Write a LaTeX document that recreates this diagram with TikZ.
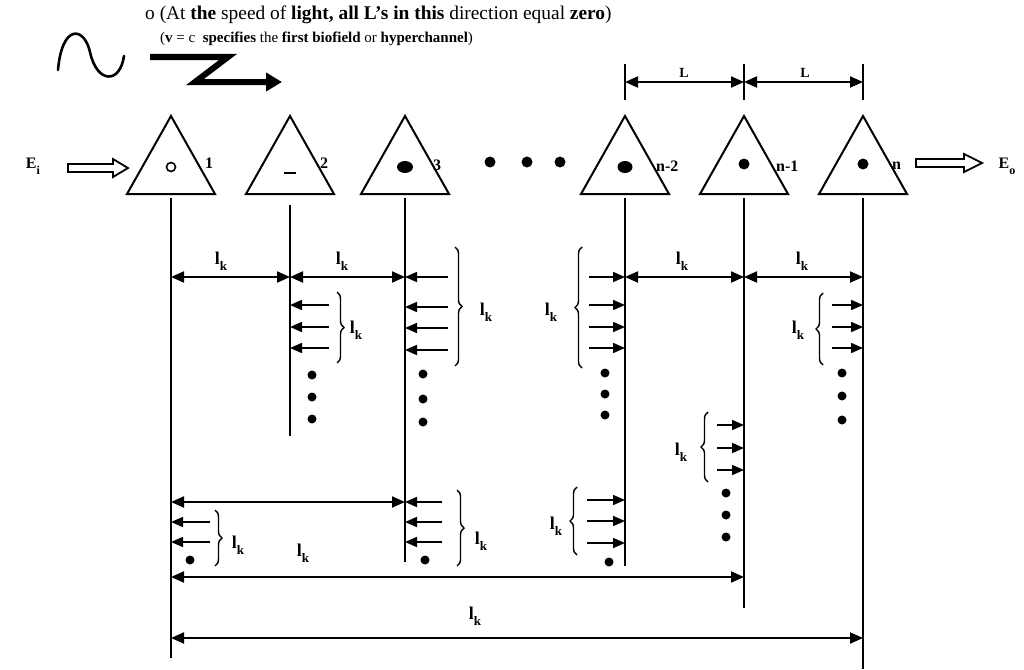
\documentclass[tikz,border=0pt]{standalone}
\usepackage{fontspec}
\setmainfont{Liberation Serif}
\usetikzlibrary{arrows.meta,decorations.pathreplacing,calc}
\tikzset{
  tri/.style={line width=2pt,line join=miter},
  vline/.style={line width=1.7pt},
  dim/.style={line width=2pt,{Triangle[length=13pt,width=11pt]}-{Triangle[length=13pt,width=11pt]}},
  la/.style={line width=1.7pt,-{Triangle[length=12pt,width=10pt]}},
  lab/.style={font=\fontsize{18}{18}\selectfont\bfseries,inner sep=0pt},
  num/.style={font=\fontsize{16}{16}\selectfont\bfseries,inner sep=0pt},
  brc/.style={decorate,decoration={brace,amplitude=7pt},line width=1.4pt},
  bdot/.style={circle,fill,inner sep=0pt,minimum size=9pt},
  hollow/.style={line width=1.8pt,line join=miter},
  toptext/.style={inner sep=0pt,anchor=base west}
}
\newcommand{\lk}{l\raisebox{-6pt}{\fontsize{13}{13}\selectfont k}}
\begin{document}
\begin{tikzpicture}[x=1pt,y=-1pt]
\useasboundingbox (0,0) rectangle (1024,669);
% top texts
\node[toptext,font=\fontsize{19.4}{19.4}\selectfont] (t1) at (145,20) {o (At \textbf{the} speed of \textbf{light,} \textbf{all L's in this} direction equal \textbf{zero})};
\node[toptext,font=\fontsize{15}{15}\selectfont] (t2) at (160,42) {(\textbf{v} = c \ \textbf{specifies} the \textbf{first biofield} or \textbf{hyperchannel})};
% sine and Z arrow
\draw[line width=2.6pt,line cap=round] (58,70) .. controls (62,24) and (84,26) .. (90,52) .. controls (97,84) and (120,84) .. (124,56);
\draw[line width=6pt,line join=miter,-{Triangle[length=16pt,width=18pt]}] (150,57) -- (228,57) -- (195,82) -- (282,82);
% column coordinates
\foreach \n/\x in {c1/171,c2/290,c3/405,c4/625,c5/744,c6/863}{
  \coordinate (\n) at (\x,0);
  \draw[tri] (\x,116) -- (\x-44,194) -- (\x+44,194) -- cycle;
}
% inner marks
\draw[line width=1.6pt] (171,167) circle (4.5);
\draw[line width=2.5pt] (284,173) -- (296,173);
\fill (405,167) ellipse (8 and 6);
\fill (625,167) ellipse (7.5 and 6);
\fill (744,164) circle (5.5);
\fill (863,164) circle (5.5);
% numbers
\node[num,anchor=west] (n1) at (205,163) {1};
\node[num,anchor=west] (n2) at (320,163) {2};
\node[num,anchor=west] (n3) at (433,165) {3};
\node[num,anchor=west] (n4) at (656,166) {n-2};
\node[num,anchor=west] (n5) at (776,166) {n-1};
\node[num,anchor=west] (n6) at (892,166) {n};
% middle dots
\node[bdot,minimum size=11pt] (d1) at (490,162) {};
\node[bdot,minimum size=11pt] (d2) at (527,162) {};
\node[bdot,minimum size=11pt] (d3) at (560,162) {};
% E in / out
\node[font=\fontsize{16}{16}\selectfont\bfseries,inner sep=0pt] (ei) at (33,166) {E\raisebox{-6pt}{\fontsize{12}{12}\selectfont i}};
\node[font=\fontsize{16}{16}\selectfont\bfseries,inner sep=0pt] (eo) at (1007,166) {E\raisebox{-6pt}{\fontsize{12}{12}\selectfont o}};
\draw[hollow] (68,164) -- (113,164) -- (113,159) -- (128,168) -- (113,177) -- (113,172) -- (68,172) -- cycle;
\draw[hollow] (916,159) -- (964,159) -- (964,154) -- (982,163) -- (964,172) -- (964,167) -- (916,167) -- cycle;
% L dimension
\draw[vline] (c4 |- 0,64) -- (c4 |- 0,100);
\draw[vline] (c5 |- 0,64) -- (c5 |- 0,100);
\draw[vline] (c6 |- 0,64) -- (c6 |- 0,100);
\draw[dim] (c4 |- 0,82) -- (c5 |- 0,82);
\draw[dim] (c5 |- 0,82) -- (c6 |- 0,82);
\node[font=\fontsize{14}{14}\selectfont\bfseries,inner sep=0pt] (L1) at (684,73) {L};
\node[font=\fontsize{14}{14}\selectfont\bfseries,inner sep=0pt] (L2) at (805,73) {L};
% vertical lines
\draw[vline] (c1 |- 0,198) -- (c1 |- 0,658);
\draw[vline] (c2 |- 0,205) -- (c2 |- 0,436);
\draw[vline] (c3 |- 0,198) -- (c3 |- 0,562);
\draw[vline] (c4 |- 0,198) -- (c4 |- 0,566);
\draw[vline] (c5 |- 0,198) -- (c5 |- 0,608);
\draw[vline] (c6 |- 0,198) -- (c6 |- 0,669);
% row 1
\draw[dim] (c1 |- 0,277) -- (c2 |- 0,277);
\draw[dim] (c2 |- 0,277) -- (c3 |- 0,277);
\draw[dim] (c4 |- 0,277) -- (c5 |- 0,277);
\draw[dim] (c5 |- 0,277) -- (c6 |- 0,277);
\node[lab] (r1a) at (221,261) {\lk};
\node[lab] (r1b) at (342,261) {\lk};
\node[lab] (r1c) at (682,261) {\lk};
\node[lab] (r1d) at (802,261) {\lk};
% column 2
\foreach \y in {305,327,348} \draw[la] (329,\y) -- (c2 |- 0,\y);
\draw[brc] (337,292) -- (337,363);
\node[lab] (k2) at (356,330) {\lk};
\foreach \y in {375,397,419} \node[bdot] at (312,\y) {};
% column 3
\foreach \y in {277,307,328,350} \draw[la] (448,\y) -- (c3 |- 0,\y);
\draw[brc] (455,247) -- (455,366);
\node[lab] (k3) at (486,312) {\lk};
\foreach \y in {374,399,422} \node[bdot] at (423,\y) {};
% column n-2
\foreach \y in {277,305,327,348} \draw[la] (589,\y) -- (c4 |- 0,\y);
\draw[brc] (582,368) -- (582,247);
\node[lab] (k4) at (551,312) {\lk};
\foreach \y in {373,394,415} \node[bdot] at (605,\y) {};
% column n
\foreach \y in {305,327,348} \draw[la] (832,\y) -- (c6 |- 0,\y);
\draw[brc] (823,365) -- (823,293);
\node[lab] (k6) at (798,330) {\lk};
\foreach \y in {373,396,420} \node[bdot] at (842,\y) {};
% column n-1
\foreach \y in {425,448,470} \draw[la] (717,\y) -- (c5 |- 0,\y);
\draw[brc] (708,482) -- (708,412);
\node[lab] (k5) at (681,452) {\lk};
\foreach \y in {493,515,537} \node[bdot] at (726,\y) {};
% bottom rows
\draw[dim] (c1 |- 0,502) -- (c3 |- 0,502);
\foreach \y in {522,542} \draw[la] (210,\y) -- (c1 |- 0,\y);
\draw[brc] (215,510) -- (215,566);
\node[lab] (kb1) at (238,545) {\lk};
\node[bdot] at (190,560) {};
\foreach \y in {502,522,542} \draw[la] (442,\y) -- (c3 |- 0,\y);
\draw[brc] (457,490) -- (457,566);
\node[lab] (kb3) at (481,541) {\lk};
\node[bdot] at (425,560) {};
\foreach \y in {500,521,543} \draw[la] (587,\y) -- (c4 |- 0,\y);
\draw[brc] (577,555) -- (577,487);
\node[lab] (kb4) at (556,526) {\lk};
\node[bdot] at (609,562) {};
\draw[dim] (c1 |- 0,577) -- (c5 |- 0,577);
\node[lab] (kl1) at (303,553) {\lk};
\draw[dim] (c1 |- 0,638) -- (c6 |- 0,638);
\node[lab] (kl2) at (475,616) {\lk};
\end{tikzpicture}
\end{document}
